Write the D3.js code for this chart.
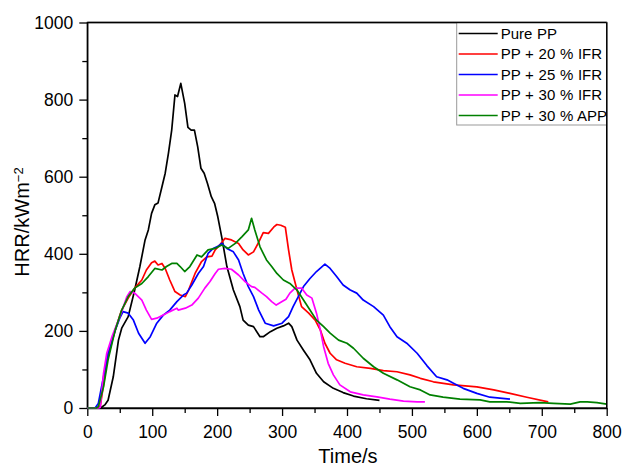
<!DOCTYPE html>
<html>
<head>
<meta charset="utf-8">
<script src="https://cdn.jsdelivr.net/npm/d3@7"></script>
<style>
  body { margin: 0; background: #fff; }
  text { font-family: "Liberation Sans", Arial, sans-serif; }
</style>
</head>
<body>
<div id="graph"></div>
<script>
// series names and colours (legend order)
var seriesNames = ["Pure PP", "PP + 20 % IFR", "PP + 25 % IFR", "PP + 30 % IFR", "PP + 30 % APP"];
var seriesColors = ["#000000", "#ff0000", "#0000ff", "#ff00ff", "#008000"];

// [time s, HRR kW/m2]
var purePP = [[0,0],[12,0],[22,2],[27,8],[32,20],[40,81],[48,176],[53,207],[63,237],[73,306],[81,367],[89,436],
  [94,462],[99,505],[104,527],[109,532],[115,574],[120,609],[125,661],[130,721],[135,812],[139,808],[144,842],
  [150,790],[155,728],[160,721],[165,721],[170,678],[175,622],[180,609],[185,583],[191,548],[196,531],[201,496],
  [207,444],[215,367],[225,306],[235,263],[240,228],[248,215],[256,211],[266,185],[271,185],[282,198],[292,207],
  [302,213],[310,220],[315,211],[323,176],[333,150],[343,125],[353,90],[364,68],[379,51],[394,40],[410,31],
  [430,24],[450,20]];

var pp20IFR = [[0,0],[14,0],[20,5],[25,60],[30,120],[40,185],[50,240],[53,254],[63,285],[73,311],[84,332],
  [91,358],[99,377],[104,381],[109,371],[115,375],[120,362],[127,332],[135,302],[143,293],[151,289],[156,306],
  [166,349],[176,380],[184,392],[192,394],[197,410],[204,423],[212,440],[222,436],[233,427],[240,410],[248,397],
  [256,405],[264,430],[271,455],[279,453],[287,469],[292,476],[298,474],[305,469],[310,410],[315,358],[323,306],
  [330,263],[341,246],[351,228],[359,202],[366,168],[374,142],[384,125],[397,116],[415,107],[436,103],[456,97],
  [477,94],[497,86],[513,77],[533,68],[564,60],[600,55],[626,47],[651,38],[677,28],[710,16]];

var pp25IFR = [[0,0],[12,0],[17,12],[25,81],[32,142],[43,202],[50,233],[55,250],[63,246],[71,228],[79,194],
  [89,168],[97,185],[107,220],[117,241],[127,254],[138,276],[148,293],[153,298],[161,319],[171,349],[179,367],
  [186,401],[194,414],[202,420],[207,427],[215,414],[225,405],[233,384],[240,349],[248,315],[256,289],[264,254],
  [274,220],[287,213],[300,220],[310,237],[317,263],[325,289],[333,315],[343,336],[353,354],[366,373],[374,362],
  [384,341],[394,319],[405,306],[415,298],[425,280],[441,263],[456,241],[466,211],[477,185],[492,168],[508,142],
  [523,110],[538,81],[554,73],[564,64],[579,51],[600,38],[620,28],[651,23]];

var pp30IFR = [[0,0],[18,0],[20,2],[25,90],[30,142],[38,185],[45,215],[53,250],[61,289],[66,302],[73,298],
  [84,280],[91,254],[99,230],[107,233],[117,241],[127,250],[138,259],[140,254],[151,259],[161,267],[171,285],
  [181,311],[189,328],[197,349],[202,360],[212,362],[222,360],[233,345],[243,328],[253,315],[258,313],[269,298],
  [276,289],[284,276],[291,267],[300,276],[306,282],[312,298],[320,311],[330,311],[338,293],[346,285],[353,246],
  [359,202],[364,159],[371,116],[379,86],[389,60],[405,42],[425,34],[446,29],[466,23],[487,18],[508,16],[520,16]];

var pp30APP = [[0,0],[14,0],[17,3],[25,55],[32,125],[43,202],[53,254],[63,289],[73,311],[84,323],[94,341],
  [104,362],[115,358],[122,367],[130,375],[138,375],[143,367],[150,354],[158,367],[169,397],[176,392],[186,410],
  [197,414],[207,423],[217,414],[228,427],[238,444],[248,462],[253,492],[258,462],[266,418],[276,384],[284,367],
  [292,349],[302,332],[312,323],[323,306],[333,280],[343,254],[353,228],[364,211],[374,194],[387,176],[400,168],
  [410,155],[425,129],[441,107],[456,90],[477,73],[497,55],[513,47],[528,34],[548,28],[574,23],[605,21],[620,16],
  [646,16],[667,12],[697,14],[718,12],[744,10],[759,16],[770,16],[785,14],[800,10]];

var allSeries = [purePP, pp20IFR, pp25IFR, pp30IFR, pp30APP];

var xMajorTicks = [0, 100, 200, 300, 400, 500, 600, 700, 800];
var xMinorTicks = [50, 150, 250, 350, 450, 550, 650, 750];
var yMajorTicks = [0, 200, 400, 600, 800, 1000];
var yMinorTicks = [100, 300, 500, 700, 900];

function createGraph() {
    var svgWidth = 625, svgHeight = 469;
    var margin = {top: 22.5, right: 18.3, bottom: 61, left: 87.3};
    var width = svgWidth - margin.left - margin.right;
    var height = svgHeight - margin.top - margin.bottom;

    var svg = d3.select("#graph").append("svg")
        .attr("width", svgWidth)
        .attr("height", svgHeight);

    var g = svg.append("g")
        .attr("transform", "translate(" + margin.left + "," + margin.top + ")");

    var x = d3.scaleLinear().domain([0, 800]).range([0, width]);
    var y = d3.scaleLinear().domain([0, 1000]).range([height, 0]);

    // minor ticks
    g.append("g")
        .attr("transform", "translate(0," + height + ")")
        .call(d3.axisBottom(x).tickValues(xMinorTicks).tickSize(5).tickFormat(""))
        .call(function (s) { s.select(".domain").remove(); });
    g.append("g")
        .call(d3.axisLeft(y).tickValues(yMinorTicks).tickSize(5).tickFormat(""))
        .call(function (s) { s.select(".domain").remove(); });

    // major ticks
    var xAxis = g.append("g")
        .attr("transform", "translate(0," + height + ")")
        .call(d3.axisBottom(x).tickValues(xMajorTicks).tickSize(8).tickPadding(10)
            .tickSizeOuter(0).tickFormat(d3.format("d")));
    xAxis.selectAll("text").attr("font-size", "17.5px").attr("fill", "#000")
        .attr("font-family", "Liberation Sans, Arial, sans-serif");

    var yAxis = g.append("g")
        .call(d3.axisLeft(y).tickValues(yMajorTicks).tickSize(8).tickPadding(6)
            .tickSizeOuter(0).tickFormat(d3.format("d")));
    yAxis.selectAll("text").attr("font-size", "17.5px").attr("fill", "#000")
        .attr("font-family", "Liberation Sans, Arial, sans-serif");

    svg.selectAll(".domain, .tick line").attr("stroke", "#000").attr("stroke-width", 1.3);

    // frame top and right
    g.append("rect")
        .attr("x", 0).attr("y", 0)
        .attr("width", width).attr("height", height)
        .attr("fill", "none")
        .attr("stroke", "#000")
        .attr("stroke-width", 1.3);

    var line = d3.line()
        .x(function (d) { return x(d[0]); })
        .y(function (d) { return y(d[1]); });

    allSeries.forEach(function (s, i) {
        g.append("path")
            .datum(s)
            .attr("fill", "none")
            .attr("stroke", seriesColors[i])
            .attr("stroke-width", 1.7)
            .attr("stroke-linejoin", "round")
            .attr("d", line);
    });

    // legend
    var lg = g.append("g").attr("transform", "translate(" + (width - 150) + ",0)");
    lg.append("rect")
        .attr("x", 0).attr("y", 0)
        .attr("width", 150).attr("height", 102.5)
        .attr("fill", "#fff")
        .attr("stroke", "#999")
        .attr("stroke-width", 1);
    seriesNames.forEach(function (name, i) {
        var ly = 11 + i * 20.5;
        lg.append("line")
            .attr("x1", 2).attr("x2", 41)
            .attr("y1", ly).attr("y2", ly)
            .attr("stroke", seriesColors[i])
            .attr("stroke-width", 1.7);
        lg.append("text")
            .attr("x", 44).attr("y", ly)
            .attr("dy", "0.35em")
            .attr("font-size", "15px")
            .attr("word-spacing", "0.5px")
            .text(name);
    });
    // redraw right/top edge over legend border
    g.append("line").attr("x1", width).attr("x2", width).attr("y1", 0).attr("y2", height)
        .attr("stroke", "#000").attr("stroke-width", 1.3);
    g.append("line").attr("x1", 0).attr("x2", width).attr("y1", 0).attr("y2", 0)
        .attr("stroke", "#000").attr("stroke-width", 1.3);

    // axis titles
    svg.append("text")
        .attr("x", 348).attr("y", 463)
        .attr("text-anchor", "middle")
        .attr("font-size", "20px")
        .text("Time/s");

    var yt = svg.append("text")
        .attr("transform", "translate(29," + 222 + ") rotate(-90)")
        .attr("text-anchor", "middle")
        .attr("font-size", "20px");
    yt.append("tspan").text("HRR/kWm");
    yt.append("tspan").attr("dy", "-0.5em").attr("font-size", "13px").text("\u22122");
}

createGraph();
</script>
</body>
</html>
